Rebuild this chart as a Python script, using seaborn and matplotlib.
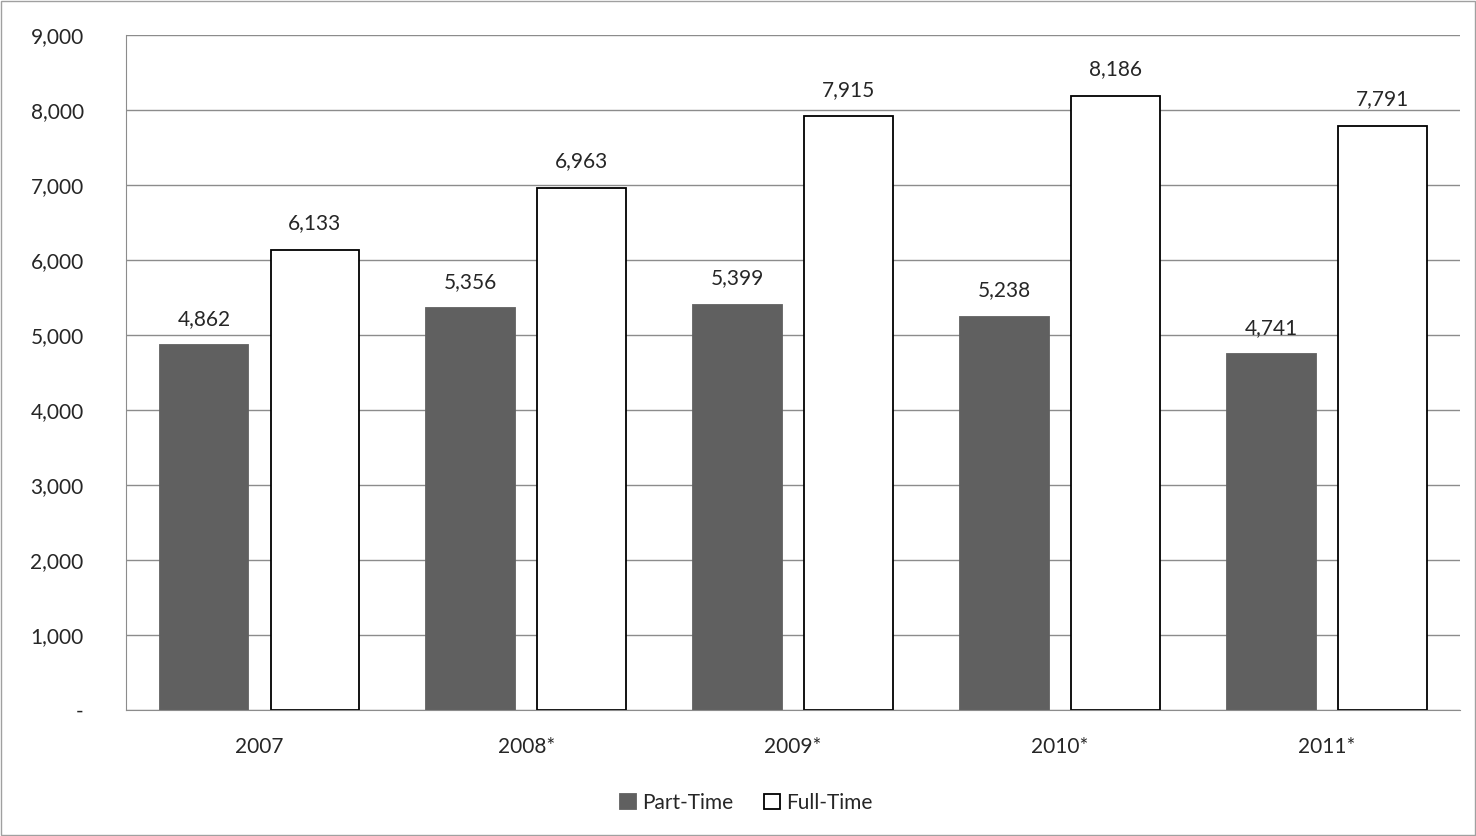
import pandas as pd
import numpy as np
import matplotlib.pyplot as plt
import seaborn as sns

years = ['2007', '2008*', '2009*', '2010*', '2011*']
part_time = [4862, 5356, 5399, 5238, 4741]
full_time = [6133, 6963, 7915, 8186, 7791]

df = pd.DataFrame({
    'Year': years * 2,
    'Type': ['Part-Time'] * len(years) + ['Full-Time'] * len(years),
    'Count': part_time + full_time,
})

sns.set_style('white')
plt.rcParams['font.family'] = ['Lato', 'DejaVu Sans']

fig = plt.figure(figsize=(14.76, 8.36), dpi=100)
ax = fig.add_axes([0.0854, 0.1507, 0.9038, 0.8073])

sns.barplot(data=df, x='Year', y='Count', hue='Type', ax=ax,
            palette={'Part-Time': '#606060', 'Full-Time': 'white'},
            width=0.832, gap=0.2, edgecolor='black', linewidth=1.3,
            errorbar=None, legend=True)

# part-time bars have no visible outline
for bar in ax.containers[0]:
    bar.set_edgecolor('#606060')

for cont in ax.containers:
    ax.bar_label(cont, labels=[f'{v:,.0f}' for v in cont.datavalues],
                 padding=12, fontsize=15)

ax.set_ylim(0, 9000)
ax.set_yticks(range(0, 9001, 1000))
ax.set_yticklabels(['-'] + [f'{v:,}' for v in range(1000, 9001, 1000)], fontsize=15)
ax.tick_params(axis='x', labelsize=15, pad=16)
ax.tick_params(axis='y', pad=27)
ax.set_xlabel('')
ax.set_ylabel('')
ax.grid(axis='y', color='#8c8c8c', linewidth=1)
ax.set_axisbelow(True)
for s in ['top', 'right']:
    ax.spines[s].set_visible(False)
for s in ['left', 'bottom']:
    ax.spines[s].set_color('#8c8c8c')

leg = ax.legend(loc='upper center', bbox_to_anchor=(0.465, -0.095), ncol=2, frameon=False,
                fontsize=15, handlelength=0.75, handleheight=0.75, handletextpad=0.3,
                columnspacing=1.5)
leg.legend_handles[0].set_edgecolor('#606060')

fig.patches.append(plt.Rectangle((0.001, 0.001), 0.998, 0.998, transform=fig.transFigure,
                                 fill=False, edgecolor='#a0a0a0', linewidth=1))

fig.savefig('out.png', dpi=100)
